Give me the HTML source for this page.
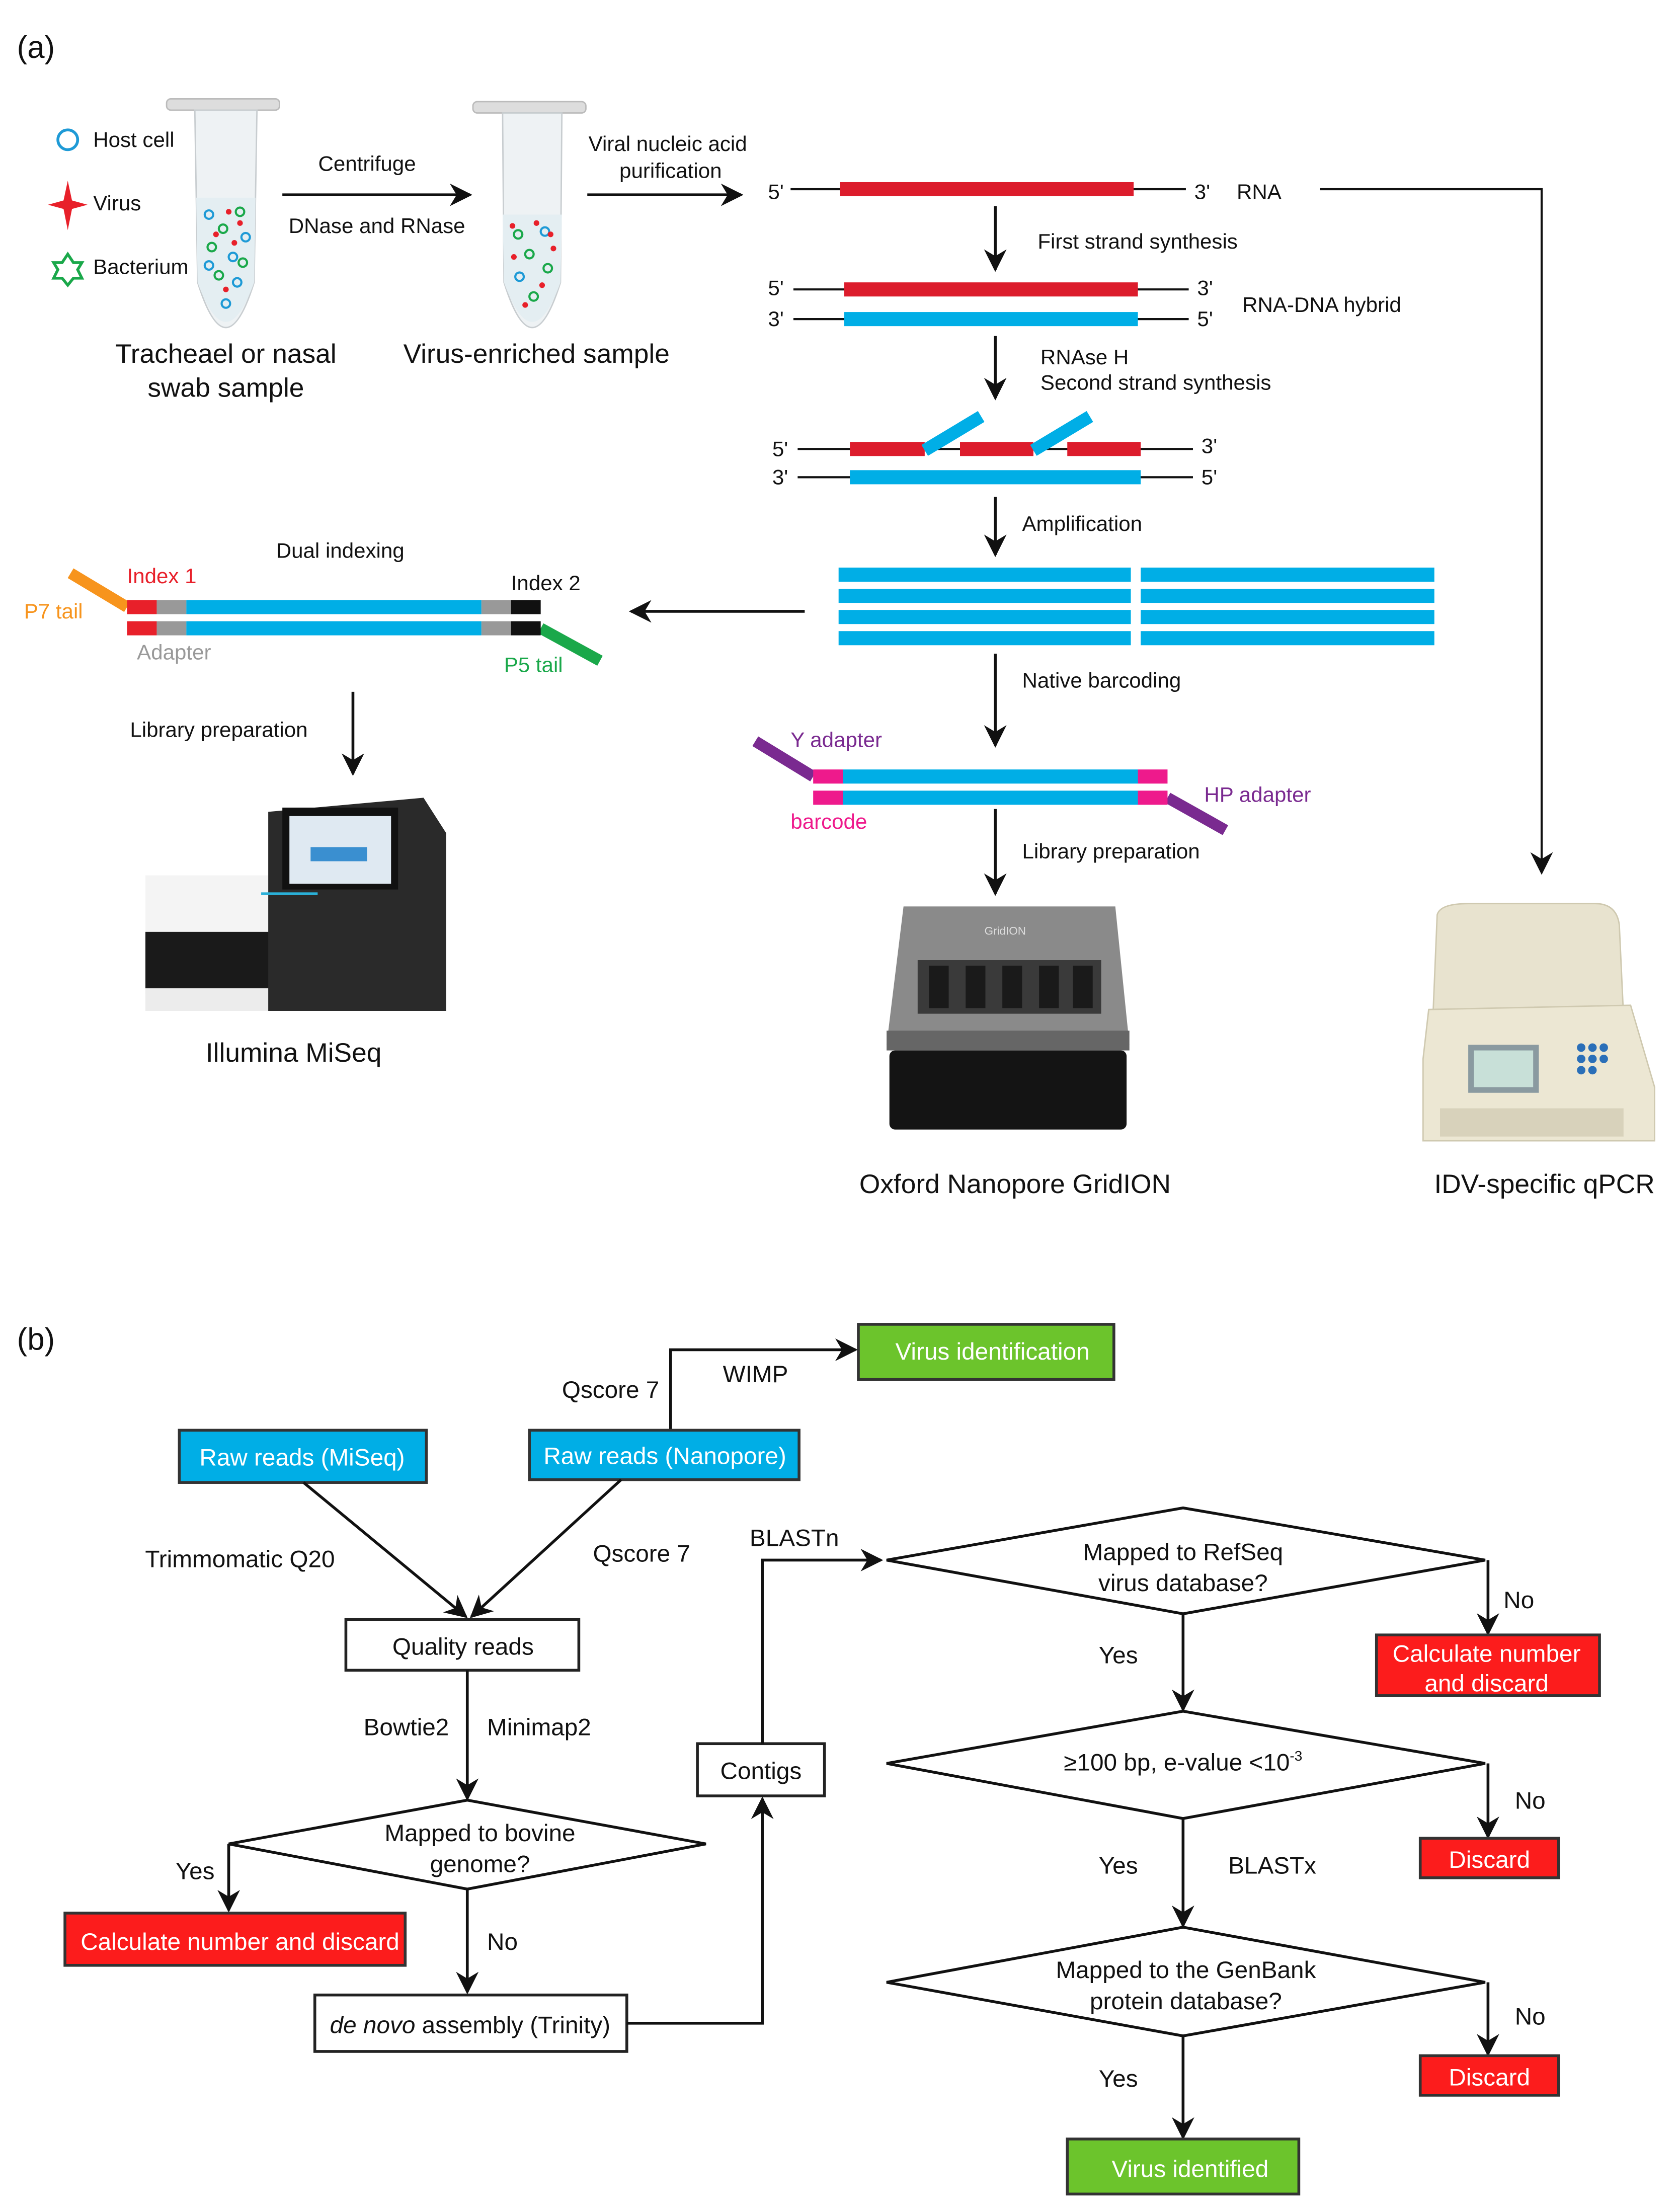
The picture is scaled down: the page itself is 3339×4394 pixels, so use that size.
<!DOCTYPE html>
<html><head><meta charset="utf-8"><style>html,body{margin:0;padding:0;background:#fff}svg{display:block}</style></head>
<body>
<svg xmlns="http://www.w3.org/2000/svg" width="3339" height="4394" viewBox="0 0 1190 1566" font-family="Liberation Sans, Arial, sans-serif">
<defs>
<marker id="ah" viewBox="0 0 10 10" refX="9" refY="5" markerWidth="7" markerHeight="7" orient="auto" markerUnits="userSpaceOnUse"><path d="M0,0 L10,5 L0,10 L3,5 z" fill="#111"/></marker>
<marker id="ab" viewBox="0 0 10 10" refX="9" refY="5" markerWidth="16" markerHeight="16" orient="auto" markerUnits="userSpaceOnUse"><path d="M0,0 L10,5 L0,10 L3,5 z" fill="#111"/></marker>
</defs>
<rect width="1190" height="1566" fill="#fff"/>
<g fill="#111" font-size="15">
<text x="12" y="41" font-size="22">(a)</text>
<!-- legend -->
<circle cx="48" cy="99" r="7" fill="none" stroke="#1e9ad6" stroke-width="2"/>
<text x="66" y="104">Host cell</text>
<path d="M48,128 L51,142 L62,145 L51,148 L48,163 L45,148 L34,145 L45,142 z" fill="#e8202a"/>
<text x="66" y="149">Virus</text>
<path d="M48,180 L52,186 L58,186 L55,191 L58,197 L52,197 L48,202 L44,197 L38,197 L41,191 L38,186 L44,186 z" fill="none" stroke="#1aa84a" stroke-width="2"/>
<text x="66" y="194">Bacterium</text>
<!-- tubes -->
<g>
<rect x="118" y="70" width="80" height="8" rx="3" fill="#ddd" stroke="#bbb"/>
<path d="M138,78 L182,78 L180,200 Q170,232 160,232 Q150,232 140,200 z" fill="#eef2f4" stroke="#c8cdd0"/>
<path d="M139,140 L181,140 L180,200 Q170,228 160,228 Q150,228 140,200 z" fill="#e4eef2"/>
<g fill="none" stroke-width="1.5">
<circle cx="148" cy="152" r="3" stroke="#1e9ad6"/><circle cx="170" cy="150" r="3" stroke="#1aa84a"/><circle cx="158" cy="162" r="3" stroke="#1aa84a"/><circle cx="174" cy="168" r="3" stroke="#1e9ad6"/><circle cx="150" cy="175" r="3" stroke="#1aa84a"/><circle cx="165" cy="182" r="3" stroke="#1e9ad6"/><circle cx="155" cy="195" r="3" stroke="#1aa84a"/><circle cx="168" cy="200" r="3" stroke="#1e9ad6"/><circle cx="160" cy="215" r="3" stroke="#1e9ad6"/><circle cx="148" cy="188" r="3" stroke="#1e9ad6"/><circle cx="172" cy="186" r="3" stroke="#1aa84a"/>
</g>
<g fill="#e8202a"><circle cx="162" cy="150" r="2"/><circle cx="153" cy="166" r="2"/><circle cx="166" cy="172" r="2"/><circle cx="160" cy="205" r="2"/><circle cx="170" cy="158" r="2"/></g>
</g>
<g>
<rect x="335" y="72" width="80" height="8" rx="3" fill="#ddd" stroke="#bbb"/>
<path d="M356,80 L398,80 L397,200 Q387,232 377,232 Q367,232 357,200 z" fill="#eef2f4" stroke="#c8cdd0"/>
<path d="M356,152 L398,152 L397,200 Q387,228 377,228 Q367,228 357,200 z" fill="#e4eef2"/>
<g fill="none" stroke-width="1.5"><circle cx="367" cy="166" r="3" stroke="#1aa84a"/><circle cx="386" cy="164" r="3" stroke="#1e9ad6"/><circle cx="375" cy="180" r="3" stroke="#1aa84a"/><circle cx="388" cy="190" r="3" stroke="#1aa84a"/><circle cx="368" cy="196" r="3" stroke="#1e9ad6"/><circle cx="378" cy="210" r="3" stroke="#1aa84a"/></g>
<g fill="#e8202a"><circle cx="363" cy="160" r="2"/><circle cx="380" cy="158" r="2"/><circle cx="392" cy="176" r="2"/><circle cx="364" cy="182" r="2"/><circle cx="384" cy="202" r="2"/><circle cx="372" cy="216" r="2"/><circle cx="390" cy="166" r="2"/></g>
</g>
<text x="160" y="257" font-size="19" text-anchor="middle">Tracheael or nasal</text>
<text x="160" y="281" font-size="19" text-anchor="middle">swab sample</text>
<text x="380" y="257" font-size="19" text-anchor="middle">Virus-enriched sample</text>
<line x1="200" y1="138" x2="333" y2="138" stroke="#111" stroke-width="2" marker-end="url(#ab)"/>
<text x="260" y="121" text-anchor="middle">Centrifuge</text>
<text x="267" y="165" text-anchor="middle">DNase and RNase</text>
<line x1="416" y1="138" x2="525" y2="138" stroke="#111" stroke-width="2" marker-end="url(#ab)"/>
<text x="473" y="107" text-anchor="middle">Viral nucleic acid</text>
<text x="475" y="126" text-anchor="middle">purification</text>
<!-- RNA -->
<text x="544" y="141">5'</text>
<line x1="560" y1="134" x2="840" y2="134" stroke="#111" stroke-width="1.5"/>
<rect x="595" y="129" width="208" height="10" fill="#dc1c2c"/>
<text x="846" y="141">3'</text><text x="876" y="141">RNA</text>
<polyline points="935,134 1092,134 1092,618" fill="none" stroke="#111" stroke-width="1.5" marker-end="url(#ab)"/>
<line x1="705" y1="146" x2="705" y2="191" stroke="#111" stroke-width="2" marker-end="url(#ab)"/>
<text x="735" y="176">First strand synthesis</text>
<text x="544" y="209">5'</text><text x="544" y="231">3'</text>
<line x1="562" y1="205" x2="842" y2="205" stroke="#111" stroke-width="1.5"/>
<line x1="562" y1="226" x2="842" y2="226" stroke="#111" stroke-width="1.5"/>
<rect x="598" y="200" width="208" height="10" fill="#dc1c2c"/>
<rect x="598" y="221" width="208" height="10" fill="#00aee6"/>
<text x="848" y="209">3'</text><text x="848" y="231">5'</text>
<text x="880" y="221">RNA-DNA hybrid</text>
<line x1="705" y1="238" x2="705" y2="282" stroke="#111" stroke-width="2" marker-end="url(#ab)"/>
<text x="737" y="258">RNAse H</text><text x="737" y="276">Second strand synthesis</text>
<text x="547" y="323">5'</text><text x="547" y="343">3'</text>
<line x1="565" y1="318" x2="845" y2="318" stroke="#111" stroke-width="1.5"/>
<line x1="565" y1="338" x2="845" y2="338" stroke="#111" stroke-width="1.5"/>
<rect x="602" y="313" width="53" height="10" fill="#dc1c2c"/>
<rect x="680" y="313" width="52" height="10" fill="#dc1c2c"/>
<rect x="756" y="313" width="52" height="10" fill="#dc1c2c"/>
<line x1="655" y1="319" x2="695" y2="295" stroke="#00aee6" stroke-width="9"/>
<line x1="732" y1="319" x2="772" y2="295" stroke="#00aee6" stroke-width="9"/>
<rect x="602" y="333" width="206" height="10" fill="#00aee6"/>
<text x="851" y="321">3'</text><text x="851" y="343">5'</text>
<line x1="705" y1="352" x2="705" y2="393" stroke="#111" stroke-width="2" marker-end="url(#ab)"/>
<text x="724" y="376">Amplification</text>
<g fill="#00aee6">
<rect x="594" y="402" width="207" height="10"/><rect x="808" y="402" width="208" height="10"/>
<rect x="594" y="417" width="207" height="10"/><rect x="808" y="417" width="208" height="10"/>
<rect x="594" y="432" width="207" height="10"/><rect x="808" y="432" width="208" height="10"/>
<rect x="594" y="447" width="207" height="10"/><rect x="808" y="447" width="208" height="10"/>
</g>
<line x1="570" y1="433" x2="447" y2="433" stroke="#111" stroke-width="2" marker-end="url(#ab)"/>
<!-- dual indexing -->
<text x="241" y="395" text-anchor="middle">Dual indexing</text>
<text x="90" y="413" fill="#e8202a">Index 1</text>
<text x="362" y="418">Index 2</text>
<text x="17" y="438" fill="#f7941d">P7 tail</text>
<text x="97" y="467" fill="#999">Adapter</text>
<text x="357" y="476" fill="#1aa84a">P5 tail</text>
<line x1="50" y1="406" x2="90" y2="430" stroke="#f7941d" stroke-width="8"/>
<line x1="383" y1="445" x2="425" y2="468" stroke="#1aa84a" stroke-width="8"/>
<g>
<rect x="90" y="425" width="21" height="10" fill="#e8202a"/><rect x="111" y="425" width="21" height="10" fill="#999"/><rect x="132" y="425" width="209" height="10" fill="#00aee6"/><rect x="341" y="425" width="21" height="10" fill="#999"/><rect x="362" y="425" width="21" height="10" fill="#111"/>
<rect x="90" y="440" width="21" height="10" fill="#e8202a"/><rect x="111" y="440" width="21" height="10" fill="#999"/><rect x="132" y="440" width="209" height="10" fill="#00aee6"/><rect x="341" y="440" width="21" height="10" fill="#999"/><rect x="362" y="440" width="21" height="10" fill="#111"/>
</g>
<line x1="250" y1="490" x2="250" y2="548" stroke="#111" stroke-width="2" marker-end="url(#ab)"/>
<text x="155" y="522" text-anchor="middle">Library preparation</text>
<!-- MiSeq -->
<g>
<rect x="103" y="620" width="100" height="96" fill="#f4f4f4"/>
<rect x="103" y="660" width="95" height="44" fill="#1a1a1a"/>
<rect x="103" y="700" width="213" height="16" fill="#ececec"/>
<path d="M190,575 L300,565 L316,590 L316,716 L190,716 z" fill="#2a2a2a"/>
<rect x="200" y="572" width="82" height="58" fill="#111"/>
<rect x="205" y="578" width="72" height="48" fill="#dfe9f2"/>
<rect x="220" y="600" width="40" height="10" fill="#3a8fd0"/>
<line x1="185" y1="633" x2="225" y2="633" stroke="#2ab0d8" stroke-width="2"/>
</g>
<text x="208" y="752" font-size="19" text-anchor="middle">Illumina MiSeq</text>
<!-- native barcoding -->
<line x1="705" y1="463" x2="705" y2="528" stroke="#111" stroke-width="2" marker-end="url(#ab)"/>
<text x="724" y="487">Native barcoding</text>
<line x1="535" y1="525" x2="576" y2="550" stroke="#7a2a90" stroke-width="8"/>
<line x1="827" y1="565" x2="868" y2="588" stroke="#7a2a90" stroke-width="8"/>
<rect x="576" y="545" width="21" height="10" fill="#ee1a8c"/><rect x="597" y="545" width="209" height="10" fill="#00aee6"/><rect x="806" y="545" width="21" height="10" fill="#ee1a8c"/>
<rect x="576" y="560" width="21" height="10" fill="#ee1a8c"/><rect x="597" y="560" width="209" height="10" fill="#00aee6"/><rect x="806" y="560" width="21" height="10" fill="#ee1a8c"/>
<text x="560" y="529" fill="#7a2a90">Y adapter</text>
<text x="560" y="587" fill="#ee1a8c">barcode</text>
<text x="853" y="568" fill="#7a2a90">HP adapter</text>
<line x1="705" y1="573" x2="705" y2="633" stroke="#111" stroke-width="2" marker-end="url(#ab)"/>
<text x="724" y="608">Library preparation</text>
<!-- GridION -->
<g>
<path d="M640,642 L790,642 L800,740 L628,740 z" fill="#8a8a8a"/>
<rect x="650" y="680" width="130" height="38" fill="#3a3a3a"/>
<g fill="#1a1a1a"><rect x="658" y="684" width="14" height="30"/><rect x="684" y="684" width="14" height="30"/><rect x="710" y="684" width="14" height="30"/><rect x="736" y="684" width="14" height="30"/><rect x="760" y="684" width="14" height="30"/></g>
<text x="712" y="662" font-size="8" fill="#ddd" text-anchor="middle">GridION</text>
<rect x="628" y="730" width="172" height="14" fill="#666"/>
<rect x="630" y="744" width="168" height="56" rx="4" fill="#141414"/>
</g>
<text x="719" y="845" font-size="19" text-anchor="middle">Oxford Nanopore GridION</text>
<!-- qPCR -->
<g>
<path d="M1018,648 Q1020,640 1040,640 L1130,640 Q1145,640 1147,655 L1150,720 L1015,720 z" fill="#e8e3cf" stroke="#cfc9b0"/>
<path d="M1012,715 L1155,712 L1172,770 L1172,808 L1008,808 L1008,750 z" fill="#ece7d3" stroke="#cfc9b0"/>
<rect x="1040" y="740" width="50" height="34" fill="#8a9aa0"/>
<rect x="1044" y="744" width="42" height="26" fill="#c8e0d8"/>
<g fill="#2a6fb8"><circle cx="1120" cy="742" r="3"/><circle cx="1128" cy="742" r="3"/><circle cx="1136" cy="742" r="3"/><circle cx="1120" cy="750" r="3"/><circle cx="1128" cy="750" r="3"/><circle cx="1136" cy="750" r="3"/><circle cx="1120" cy="758" r="3"/><circle cx="1128" cy="758" r="3"/></g>
<rect x="1020" y="785" width="130" height="20" fill="#d8d2bb"/>
</g>
<text x="1094" y="845" font-size="19" text-anchor="middle">IDV-specific qPCR</text>
</g>

<!-- (b) -->
<g fill="#111" font-size="17" stroke-width="2">
<text x="12" y="956" font-size="22">(b)</text>
<rect x="608" y="938" width="181" height="39" fill="#6cc42c" stroke="#333"/>
<text x="703" y="963" fill="#fff" text-anchor="middle">Virus identification</text>
<polyline points="475,1013 475,956 606,956" fill="none" stroke="#111" marker-end="url(#ab)"/>
<text x="512" y="979">WIMP</text>
<text x="467" y="990" text-anchor="end">Qscore 7</text>
<rect x="127" y="1013" width="175" height="37" fill="#00aee6" stroke="#333"/>
<text x="214" y="1038" fill="#fff" text-anchor="middle">Raw reads (MiSeq)</text>
<rect x="375" y="1013" width="191" height="35" fill="#00aee6" stroke="#333"/>
<text x="471" y="1037" fill="#fff" text-anchor="middle">Raw reads (Nanopore)</text>
<line x1="215" y1="1050" x2="330" y2="1145" stroke="#111" marker-end="url(#ab)"/>
<line x1="440" y1="1048" x2="334" y2="1145" stroke="#111" marker-end="url(#ab)"/>
<text x="170" y="1110" text-anchor="middle">Trimmomatic Q20</text>
<text x="420" y="1106">Qscore 7</text>
<rect x="245" y="1147" width="165" height="36" fill="#fff" stroke="#222"/>
<text x="328" y="1172" text-anchor="middle">Quality reads</text>
<line x1="331" y1="1183" x2="331" y2="1274" stroke="#111" marker-end="url(#ab)"/>
<text x="318" y="1229" text-anchor="end">Bowtie2</text>
<text x="345" y="1229">Minimap2</text>
<polygon points="162,1306 331,1275 500,1306 331,1338" fill="#fff" stroke="#111"/>
<text x="340" y="1304" text-anchor="middle">Mapped to bovine</text>
<text x="340" y="1326" text-anchor="middle">genome?</text>
<polyline points="162,1306 162,1353" fill="none" stroke="#111" marker-end="url(#ab)"/>
<text x="152" y="1331" text-anchor="end">Yes</text>
<rect x="46" y="1355" width="241" height="37" fill="#fc1c1c" stroke="#333"/>
<text x="170" y="1381" fill="#fff" text-anchor="middle">Calculate number and discard</text>
<line x1="331" y1="1338" x2="331" y2="1411" stroke="#111" marker-end="url(#ab)"/>
<text x="345" y="1381">No</text>
<rect x="223" y="1413" width="221" height="40" fill="#fff" stroke="#222"/>
<text x="333" y="1440" text-anchor="middle"><tspan font-style="italic">de novo</tspan> assembly (Trinity)</text>
<polyline points="444,1433 540,1433 540,1274" fill="none" stroke="#111" marker-end="url(#ab)"/>
<rect x="494" y="1235" width="90" height="37" fill="#fff" stroke="#222"/>
<text x="539" y="1260" text-anchor="middle">Contigs</text>
<polyline points="540,1235 540,1105 624,1105" fill="none" stroke="#111" marker-end="url(#ab)"/>
<text x="531" y="1095">BLASTn</text>
<polygon points="628,1105 838,1068 1052,1105 838,1143" fill="#fff" stroke="#111"/>
<text x="838" y="1105" text-anchor="middle">Mapped to RefSeq</text>
<text x="838" y="1127" text-anchor="middle">virus database?</text>
<line x1="1054" y1="1105" x2="1054" y2="1157" stroke="#111" marker-end="url(#ab)"/>
<text x="1065" y="1139">No</text>
<rect x="975" y="1158" width="158" height="43" fill="#fc1c1c" stroke="#333"/>
<text x="1053" y="1177" fill="#fff" text-anchor="middle">Calculate number</text>
<text x="1053" y="1198" fill="#fff" text-anchor="middle">and discard</text>
<line x1="838" y1="1143" x2="838" y2="1211" stroke="#111" marker-end="url(#ab)"/>
<text x="806" y="1178" text-anchor="end">Yes</text>
<polygon points="628,1249 838,1212 1052,1249 838,1288" fill="#fff" stroke="#111"/>
<text x="838" y="1254" text-anchor="middle">≥100 bp, e-value &lt;10<tspan font-size="10" dy="-7">-3</tspan></text>
<line x1="1054" y1="1249" x2="1054" y2="1301" stroke="#111" marker-end="url(#ab)"/>
<text x="1073" y="1281">No</text>
<rect x="1006" y="1302" width="98" height="28" fill="#fc1c1c" stroke="#333"/>
<text x="1055" y="1323" fill="#fff" text-anchor="middle">Discard</text>
<line x1="838" y1="1288" x2="838" y2="1364" stroke="#111" marker-end="url(#ab)"/>
<text x="806" y="1327" text-anchor="end">Yes</text>
<text x="870" y="1327">BLASTx</text>
<polygon points="628,1404 838,1365 1052,1404 838,1442" fill="#fff" stroke="#111"/>
<text x="840" y="1401" text-anchor="middle">Mapped to the GenBank</text>
<text x="840" y="1423" text-anchor="middle">protein database?</text>
<line x1="1054" y1="1404" x2="1054" y2="1455" stroke="#111" marker-end="url(#ab)"/>
<text x="1073" y="1434">No</text>
<rect x="1006" y="1456" width="98" height="28" fill="#fc1c1c" stroke="#333"/>
<text x="1055" y="1477" fill="#fff" text-anchor="middle">Discard</text>
<line x1="838" y1="1442" x2="838" y2="1514" stroke="#111" marker-end="url(#ab)"/>
<text x="806" y="1478" text-anchor="end">Yes</text>
<rect x="756" y="1515" width="164" height="39" fill="#6cc42c" stroke="#333"/>
<text x="843" y="1542" fill="#fff" text-anchor="middle">Virus identified</text>
</g>
</svg>
</body></html>
